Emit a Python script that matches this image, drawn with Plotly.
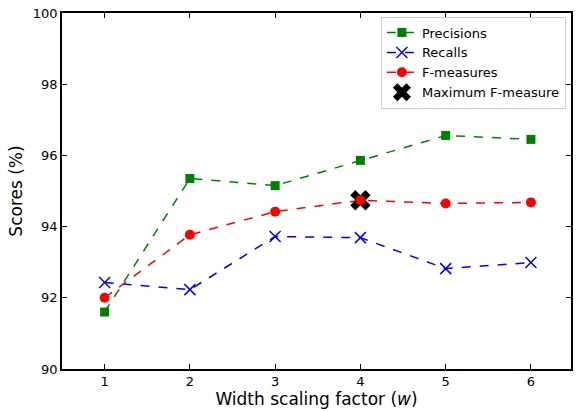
import plotly.graph_objects as go

w = [1, 2, 3, 4, 5, 6]
precisions = [91.6, 95.35, 95.15, 95.86, 96.56, 96.45]
recalls = [92.43, 92.23, 93.72, 93.69, 92.82, 92.99]
fmeasures = [92.0, 93.77, 94.42, 94.74, 94.65, 94.68]
max_idx = fmeasures.index(max(fmeasures))

fig = go.Figure()
fig.add_trace(go.Scatter(x=w, y=precisions, mode="lines+markers", name="Precisions",
                         line=dict(color="#008000", dash="dash", width=1.5),
                         marker=dict(symbol="square", size=9, color="#008000")))
fig.add_trace(go.Scatter(x=w, y=recalls, mode="lines+markers", name="Recalls",
                         line=dict(color="#0000ff", dash="dash", width=1.5),
                         marker=dict(symbol="x-thin", size=11, color="#0000ff",
                                     line=dict(color="#0000ff", width=1.5))))
fig.add_trace(go.Scatter(x=w, y=fmeasures, mode="lines+markers", name="F-measures",
                         line=dict(color="#ff0000", dash="dash", width=1.5),
                         marker=dict(symbol="circle", size=10, color="#ff0000")))
fig.add_trace(go.Scatter(x=[w[max_idx]], y=[fmeasures[max_idx]], mode="markers",
                         name="Maximum F-measure",
                         marker=dict(symbol="x", size=18, color="black")))
# redraw the F-measure marker on top
fig.add_trace(go.Scatter(x=[w[max_idx]], y=[fmeasures[max_idx]], mode="markers",
                         showlegend=False, hoverinfo="skip",
                         marker=dict(symbol="circle", size=10, color="#ff0000")))

axis_common = dict(showline=True, linecolor="black", linewidth=1.5, mirror="ticks",
                   ticks="inside", ticklen=5, tickwidth=1, tickcolor="black",
                   showgrid=False, zeroline=False,
                   tickfont=dict(family="DejaVu Sans", size=13, color="black"))
fig.update_xaxes(range=[0.5, 6.47], tickvals=w, ticktext=[str(v) for v in w],
                 title=dict(text="Width scaling factor (<i>w</i>)",
                            font=dict(family="DejaVu Sans", size=17, color="black"),
                            standoff=4),
                 **axis_common)
fig.update_yaxes(range=[90, 100], tickvals=[90, 92, 94, 96, 98, 100],
                 title=dict(text="Scores (%)",
                            font=dict(family="DejaVu Sans", size=17, color="black"),
                            standoff=6),
                 **axis_common)
fig.update_layout(width=576, height=412,
                  margin=dict(l=62, r=3, t=13, b=43),
                  plot_bgcolor="white", paper_bgcolor="white",
                  font=dict(family="DejaVu Sans", color="black"),
                  legend=dict(x=0.99, y=0.99, xanchor="right", yanchor="top",
                              bgcolor="white", bordercolor="#cccccc", borderwidth=1,
                              font=dict(family="DejaVu Sans", size=13, color="black"),
                              itemwidth=30, tracegroupgap=0))
fig.write_html("out.html",
               config={"displayModeBar": False},
               post_script="document.body.style.margin='0';")
